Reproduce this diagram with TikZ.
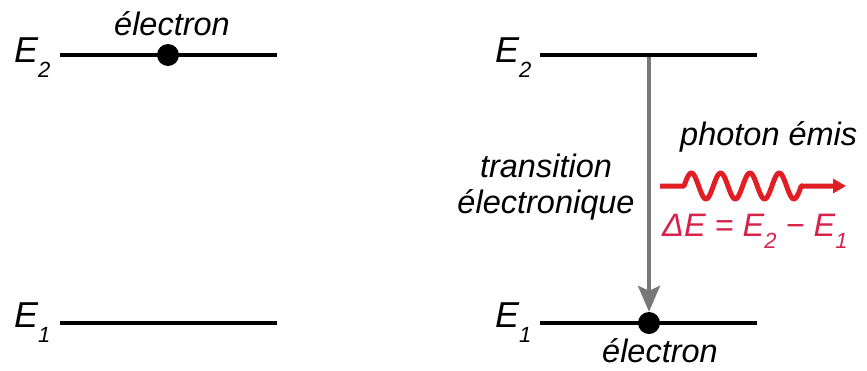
\documentclass[tikz,border=0pt]{standalone}
\usepackage{fontspec}
\setmainfont{Liberation Sans}
\usetikzlibrary{arrows.meta}
\definecolor{wavered}{RGB}{225,30,35}
\definecolor{dered}{RGB}{215,35,75}
\definecolor{arrgray}{RGB}{120,120,120}
\newcommand\txt{\fontsize{32.5}{38}\selectfont\itshape}
\newcommand\Elev[1]{{\fontsize{36}{40}\selectfont\itshape E}\raisebox{-15pt}{\fontsize{22}{24}\selectfont\itshape #1}}
\newcommand\Esub[1]{E\raisebox{-12pt}{\fontsize{22}{24}\selectfont\itshape #1}}
\begin{document}
\begin{tikzpicture}[x=1pt,y=-1pt,
  level/.style={line width=4pt},
  dot/.style={circle,fill=black,inner sep=0pt,minimum size=22pt},
  lbl/.style={inner sep=0pt,font=\txt},
  elbl/.style={inner sep=0pt,anchor=base west}]
\useasboundingbox (0,0) rectangle (867,370);
% left levels
\coordinate (l2a) at (60,55); \coordinate (l2b) at (277,55);
\coordinate (l1a) at (60,323); \coordinate (l1b) at (277,323);
\draw[level] (l2a) -- (l2b);
\draw[level] (l1a) -- (l1b);
\node[dot] (ldot) at (168,55) {};
\node[lbl,anchor=base] (lel) at (172,35) {électron};
\node[elbl] (lE2) at (14,62) {\Elev{2}};
\node[elbl] (lE1) at (14,327) {\Elev{1}};
% right levels
\coordinate (r2a) at (540,55); \coordinate (r2b) at (757,55);
\coordinate (r1a) at (540,323); \coordinate (r1b) at (757,323);
\draw[level] (r2a) -- (r2b);
\draw[level] (r1a) -- (r1b);
\node[dot] (rdot) at (649,323) {};
\node[elbl] (rE2) at (495,62) {\Elev{2}};
\node[elbl] (rE1) at (495,327) {\Elev{1}};
\node[lbl,anchor=base] (rel) at (660,362) {électron};
% transition arrow
\coordinate (tstart) at (649,57);
\draw[arrgray,line width=3.5pt,-{Stealth[length=26pt,width=22pt,inset=5pt]}] (tstart) -- (rdot.north);
\node[lbl,anchor=base] (tr1) at (546,177) {transition};
\node[lbl,anchor=base] (tr2) at (546,213) {électronique};
% photon
\node[lbl,anchor=base west] (ph) at (680,145) {photon émis};
\coordinate (w0) at (660,186);
\coordinate (w1) at (846,186);
\draw[wavered,line width=5pt,line join=round,-{Triangle[length=13pt,width=14pt]}] (w0) -- (684,186)
  -- plot[domain=0:117.2,samples=120,smooth] ({684+\x},{186-13*sin(\x*12.287)}) -- (w1);
\node[lbl,anchor=base west,text=dered] (de) at (662,236) {ΔE = \Esub{2} − \Esub{1}};
\end{tikzpicture}
\end{document}
